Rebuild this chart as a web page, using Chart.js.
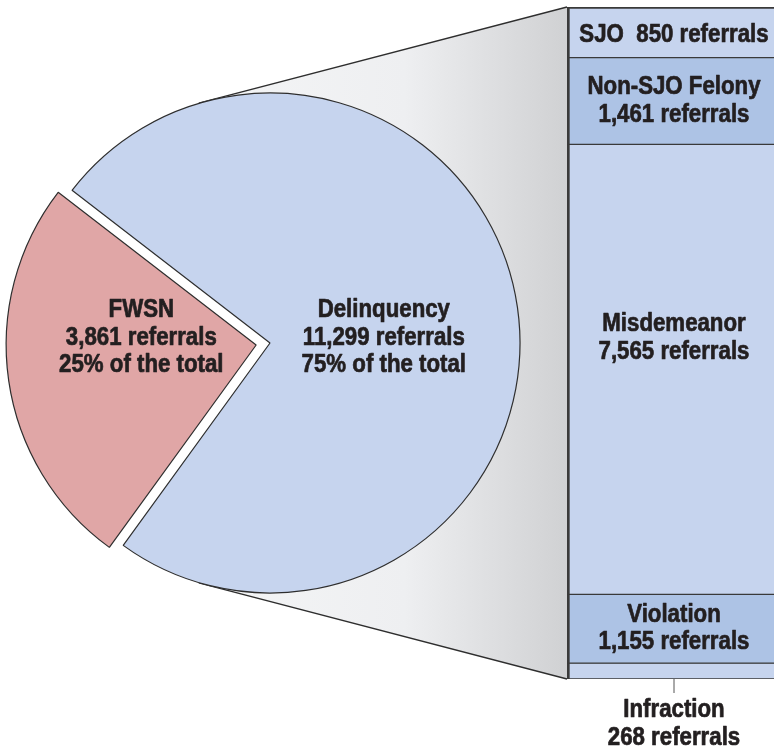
<!DOCTYPE html>
<html><head><meta charset="utf-8">
<script src="https://cdn.jsdelivr.net/npm/chart.js@4.4.0/dist/chart.umd.min.js"></script>
<style>
html,body{margin:0;padding:0;background:#fff;overflow:hidden;width:774px;height:749px;}
#wrap{position:relative;width:774px;height:749px;overflow:hidden;}
canvas{position:absolute;left:0;top:0;}
#bar{z-index:1;} #pie{z-index:2;}
</style></head><body>
<div id="wrap"><canvas id="bar" width="790" height="749"></canvas><canvas id="pie" width="774" height="749"></canvas></div>
<script>
// ---- data ----
const pieLabels = ['FWSN', 'Delinquency'];
const pieValues = [3861, 11299];
const pieShareText = ['25% of the total', '75% of the total'];
const barLabels = ['SJO', 'Non-SJO Felony', 'Misdemeanor', 'Violation', 'Infraction'];
const barValues = [850, 1461, 7565, 1155, 268];

// ---- styles ----
const pieColors = ['#e0a6a6', '#c6d4ee'];
const barColors = ['#c6d4ee', '#adc3e5', '#c6d4ee', '#adc3e5', '#c6d4ee'];
const LINE = '#2e2e2e';
const TEXT = '#231f20';
const FONT = "bold 25px 'Liberation Sans', Arial, sans-serif";
const SCALE_X = 0.89;
const LH = 27.5;

const fmt = v => v.toLocaleString('en-US');
const pieTotal = pieValues.reduce((a, b) => a + b, 0);
const barTotal = barValues.reduce((a, b) => a + b, 0);

function drawLines(ctx, lines, x, cy) {
  const y0 = cy - (lines.length - 1) / 2 * LH;
  lines.forEach((t, i) => {
    ctx.save();
    ctx.font = FONT;
    ctx.fillStyle = TEXT;
    ctx.strokeStyle = TEXT;
    ctx.lineWidth = 0.7;
    ctx.lineJoin = 'round';
    ctx.textAlign = 'center';
    ctx.textBaseline = 'middle';
    ctx.translate(x, y0 + i * LH);
    ctx.scale(SCALE_X, 1);
    ctx.fillText(t, 0, 0);
    ctx.strokeText(t, 0, 0);
    ctx.restore();
  });
}

const pieLabelPlugin = {
  id: 'pieLabels',
  afterDatasetsDraw(chart) {
    const ctx = chart.ctx;
    chart.getDatasetMeta(0).data.forEach((el, i) => {
      const mid = (el.startAngle + el.endAngle) / 2;
      const k = i === 0 ? 0.52 : 0.46;
      const x = el.x + Math.cos(mid) * el.outerRadius * k;
      drawLines(ctx, [pieLabels[i], fmt(pieValues[i]) + ' referrals', pieShareText[i]], x, el.y - 5);
    });
  }
};

const pieChart = new Chart(document.getElementById('pie'), {
  type: 'pie',
  data: {
    labels: pieLabels,
    datasets: [{
      data: pieValues,
      backgroundColor: pieColors,
      borderColor: LINE,
      borderWidth: 1.2,
      offset: [56, 0],
      radius: 250
    }]
  },
  options: {
    responsive: false,
    animation: false,
    devicePixelRatio: 1,
    events: [],
    rotation: 261.8 - 180 * pieValues[0] / pieTotal,
    radius: 250,
    layout: { padding: { left: 0, right: 234, top: 0, bottom: 63 } },
    plugins: { legend: { display: false }, tooltip: { enabled: false } }
  },
  plugins: [pieLabelPlugin]
});

function tangentPoint(px, py, cx, cy, r, upper) {
  const dx = px - cx, dy = py - cy, d = Math.hypot(dx, dy);
  const a = Math.atan2(dy, dx), b = Math.acos(r / d);
  const mk = ang => ({ x: cx + r * Math.cos(ang), y: cy + r * Math.sin(ang), ang });
  const p1 = mk(a - b), p2 = mk(a + b);
  return upper ? (p1.y < p2.y ? p1 : p2) : (p1.y > p2.y ? p1 : p2);
}

const funnelPlugin = {
  id: 'funnel',
  beforeDatasetsDraw(chart) {
    const arc = pieChart.getDatasetMeta(0).data[1];
    const cx = arc.x, cy = arc.y, r = arc.outerRadius;
    const first = chart.getDatasetMeta(0).data[0];
    const last = chart.getDatasetMeta(barValues.length - 1).data[0];
    const left = first.x - first.width / 2;
    const top = Math.min(first.y, first.base);
    const bottom = Math.max(last.y, last.base);
    const t1 = tangentPoint(left, top, cx, cy, r, true);
    const t2 = tangentPoint(left, bottom, cx, cy, r, false);
    const ctx = chart.ctx;
    ctx.save();
    const g = ctx.createLinearGradient(t1.x, 0, left, 0);
    g.addColorStop(0, '#f4f5f6');
    g.addColorStop(0.55, '#eeeff1');
    g.addColorStop(1, '#d0d1d3');
    ctx.beginPath();
    ctx.moveTo(t1.x, t1.y);
    ctx.lineTo(left, top);
    ctx.lineTo(left, bottom);
    ctx.lineTo(t2.x, t2.y);
    ctx.arc(cx, cy, r, t2.ang, t1.ang, true);
    ctx.closePath();
    ctx.fillStyle = g;
    ctx.fill();
    ctx.strokeStyle = LINE;
    ctx.lineWidth = 1.3;
    ctx.beginPath();
    ctx.moveTo(t1.x - 8, t1.y + 8 * (top - t1.y) / (t1.x - left));
    ctx.lineTo(left, top);
    ctx.moveTo(t2.x - 8, t2.y + 8 * (bottom - t2.y) / (t2.x - left));
    ctx.lineTo(left, bottom);
    ctx.stroke();
    ctx.restore();
  }
};

const barLabelPlugin = {
  id: 'barLabels',
  afterDatasetsDraw(chart) {
    const ctx = chart.ctx;
    const pieCy = pieChart.getDatasetMeta(0).data[1].y;
    barValues.forEach((v, i) => {
      const el = chart.getDatasetMeta(i).data[0];
      const t = Math.min(el.y, el.base), b = Math.max(el.y, el.base);
      const h = b - t;
      if (h < 30) {
        ctx.save();
        ctx.strokeStyle = '#555';
        ctx.lineWidth = 1;
        ctx.beginPath();
        ctx.moveTo(el.x, b);
        ctx.lineTo(el.x, b + 14);
        ctx.stroke();
        ctx.restore();
        drawLines(ctx, [barLabels[i], fmt(v) + ' referrals'], el.x, b + 45);
      } else if (h < 60) {
        drawLines(ctx, [barLabels[i] + '  ' + fmt(v) + ' referrals'], el.x, (t + b) / 2 + 3);
      } else {
        let cy = (t + b) / 2;
        if (pieCy > t && pieCy < b) cy = pieCy - 5;
        drawLines(ctx, [barLabels[i], fmt(v) + ' referrals'], el.x, cy);
      }
    });
  }
};

new Chart(document.getElementById('bar'), {
  type: 'bar',
  data: {
    labels: ['Delinquency'],
    datasets: barLabels.map((l, i) => ({
      label: l,
      data: [barValues[i]],
      backgroundColor: barColors[i],
      borderColor: '#3a3a3a',
      borderWidth: { left: 3, right: 0, top: i === 0 ? 2 : 1, bottom: 1 },
      borderSkipped: false,
      barPercentage: 1,
      categoryPercentage: 1
    }))
  },
  options: {
    responsive: false,
    animation: false,
    devicePixelRatio: 1,
    events: [],
    layout: { padding: { left: 567, right: 9, top: 7, bottom: 70 } },
    scales: {
      x: { display: false, stacked: true },
      y: { display: false, stacked: true, reverse: true, min: 0, max: barTotal }
    },
    plugins: { legend: { display: false }, tooltip: { enabled: false } }
  },
  plugins: [funnelPlugin, barLabelPlugin]
});
</script>
</body></html>
